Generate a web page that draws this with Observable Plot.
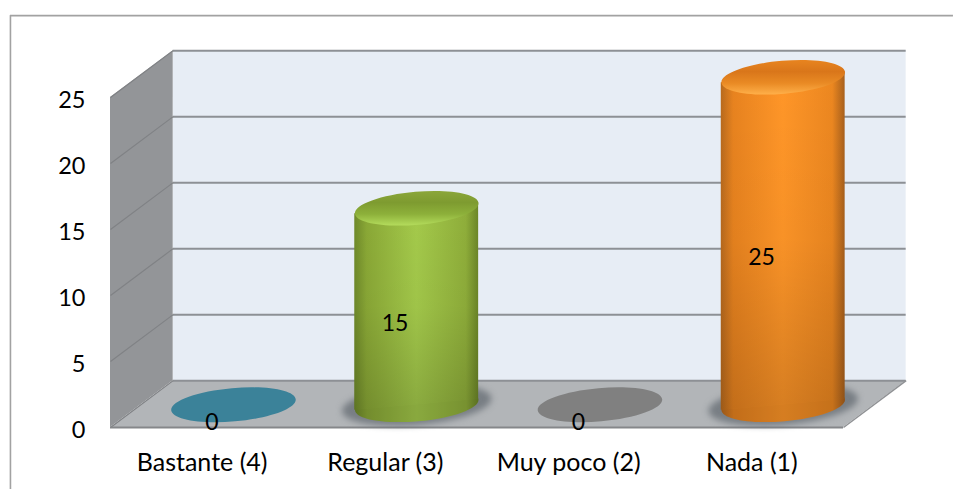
<!DOCTYPE html>
<html>
<head>
<meta charset="utf-8">
<script src="https://cdn.jsdelivr.net/npm/d3@7"></script>
<script src="https://cdn.jsdelivr.net/npm/@observablehq/plot@0.6"></script>
<style>html,body{margin:0;padding:0;background:#fff}svg{display:block}</style>
</head>
<body>
<script>
const categories = ["Bastante (4)", "Regular (3)", "Muy poco (2)", "Nada (1)"];
const values = [0, 15, 0, 25];
const yTicks = [0, 5, 10, 15, 20, 25];
const flatColors = ["#3b8299", "#5f7d25", "#808080", "#c26a17"];
const bodyOffsets = [0, 0.1, 0.5, 0.9, 1];
const bodyStops = [
  null,
  ["#6f8a2a", "#8aa836", "#a4ca4b", "#8fae3a", "#6c8627"],
  null,
  ["#b86a1e", "#e8831f", "#ff9628", "#ec8720", "#a8601c"]
];
const capStops = [
  null,
  ["#8ba63a", "#7e9b30", "#8db03a", "#b4dc5c"],
  null,
  ["#e8841f", "#d9761a", "#e98a24", "#ffb04a"]
];

// depth of the 3D box, in data units of each scale
const depthX = 0.342, depthY = 3.55;
const yMax = 25, nCat = 4;
const barHalf = 0.338, barTilt = 0.42, barScale = 327.5 / 330;
const cx = i => i + 0.5 + depthX / 2;
const base = 1.72;
const ellipseSymbol = {
  draw(ctx, size) {
    const a = Math.sqrt(size / Math.PI), b = a * 16.5 / 62, t = -5 * Math.PI / 180;
    const k = 0.5522848, c = Math.cos(t), s = Math.sin(t);
    const P = (x, y) => [x * c - y * s, x * s + y * c];
    ctx.moveTo(...P(a, 0));
    ctx.bezierCurveTo(...P(a, k * b), ...P(k * a, b), ...P(0, b));
    ctx.bezierCurveTo(...P(-k * a, b), ...P(-a, k * b), ...P(-a, 0));
    ctx.bezierCurveTo(...P(-a, -k * b), ...P(-k * a, -b), ...P(0, -b));
    ctx.bezierCurveTo(...P(k * a, -b), ...P(a, -k * b), ...P(a, 0));
    ctx.closePath();
  }
};

const rows = categories.map((c, i) => ({c, i, v: values[i]}));
const bars = rows.filter(d => d.v > 0);
const topOf = d => base + d.v * barScale;

const marks = [
  // frame
  Plot.ruleX([-0.546], {y1: -4.7, y2: 31.2, stroke: "#a2a2a2", strokeWidth: 1.6}),
  Plot.ruleY([31.2], {x1: -0.546, x2: 4.6, stroke: "#a2a2a2", strokeWidth: 1.6}),
  // back wall
  Plot.rect([0], {x1: depthX, x2: nCat + depthX, y1: depthY, y2: yMax + depthY, fill: "#e7edf5"}),
  // side wall
  Plot.areaY([[0, 0, yMax], [depthX, depthY, yMax + depthY]], {x: d => d[0], y1: d => d[1], y2: d => d[2], fill: "#939598"}),
  // floor
  Plot.area([[0, 0, nCat, 0], [depthX, depthY, nCat + depthX, depthY]], {x1: d => d[0], y1: d => d[1], x2: d => d[2], y2: d => d[3], fill: "#b2b5b8"}),
  // grid on back wall
  Plot.ruleY(yTicks, {y: d => d + depthY, x1: depthX, x2: nCat + depthX, stroke: "#8d9095", strokeWidth: 2}),
  // grid on side wall
  Plot.link(yTicks, {x1: 0, y1: d => d, x2: depthX, y2: d => d + depthY, stroke: "#808285", strokeWidth: 1.2}),
  // floor edges
  Plot.ruleY([0], {x1: 0, x2: nCat, stroke: "#85878a", strokeWidth: 2}),
  Plot.link([nCat], {x1: d => d, y1: 0, x2: d => d + depthX, y2: depthY, stroke: "#909295", strokeWidth: 1.5}),
  // flat zero-height bars
  Plot.dot(rows.filter(d => d.v === 0), {x: d => cx(d.i), y: base, r: 62.5, symbol: ellipseSymbol, fill: d => flatColors[d.i], stroke: "none"}),
  // floor shadows
  Plot.dot(bars, {x: d => cx(d.i), y: base, r: 75, symbol: ellipseSymbol, fill: "#5f666e", fillOpacity: 0.7, stroke: "none", imageFilter: "blur(3px)"})
];

for (const d of bars) {
  const pts = [-1, 1];
  const shape = {
    x: s => cx(d.i) + s * barHalf,
    y1: s => base + s * barTilt,
    y2: s => topOf(d) + s * barTilt
  };
  marks.push(
    Plot.dot([d], {x: cx(d.i), y: base, r: 62, symbol: ellipseSymbol, fill: `url(#body${d.i})`, stroke: "none"}),
    Plot.dot([d], {x: cx(d.i), y: base, r: 62, symbol: ellipseSymbol, fill: "#000", fillOpacity: 0.16, stroke: "none"}),
    Plot.areaY(pts, {...shape, fill: `url(#body${d.i})`}),
    Plot.areaY(pts, {...shape, fill: "url(#shade)"}),
    Plot.dot([d], {x: cx(d.i), y: topOf, r: 62, symbol: ellipseSymbol, fill: `url(#cap${d.i})`, stroke: "none"})
  );
}

marks.push(
  Plot.text(rows, {x: d => d.i + 0.553, y: d => d.v / 2 + 0.4, text: d => String(d.v), fontSize: 23, fill: "#000"}),
  Plot.axisY({ticks: yTicks, anchor: "left", tickSize: 0, tickPadding: 25, fontSize: 23.5, color: "#000", label: null, dy: 3}),
  Plot.axisX({ticks: rows.map(d => d.i + 0.5), tickFormat: (d, i) => categories[i], anchor: "bottom", tickSize: 0, tickPadding: 26, fontSize: 25, color: "#000", label: null})
);

const plot = Plot.plot({
  width: 953,
  height: 489,
  marginLeft: 110,
  marginRight: 110,
  marginBottom: 62,
  marginTop: 97,
  style: {fontFamily: "Lato", background: "#fff"},
  x: {type: "linear", domain: [0, nCat], range: [110, 843]},
  y: {type: "linear", domain: [0, yMax], range: [427, 97]},
  marks
});

const defs = d3.select(plot).insert("defs", ":first-child");
function gradient(id, stops, vertical, offsets) {
  const g = defs.append("linearGradient").attr("id", id).attr("x1", 0).attr("y1", 0)
    .attr("x2", vertical ? 0 : 1).attr("y2", vertical ? 1 : 0);
  stops.forEach((c, k) => g.append("stop").attr("offset", offsets ? offsets[k] : k / (stops.length - 1)).attr("stop-color", c));
  return g;
}
bodyStops.forEach((s, i) => { if (s) gradient(`body${i}`, s, false, bodyOffsets); });
capStops.forEach((s, i) => { if (s) gradient(`cap${i}`, s, true); });
const shade = defs.append("linearGradient").attr("id", "shade").attr("x1", 0).attr("y1", 0).attr("x2", 0).attr("y2", 1);
shade.append("stop").attr("offset", 0).attr("stop-color", "#000").attr("stop-opacity", 0);
shade.append("stop").attr("offset", 0.5).attr("stop-color", "#000").attr("stop-opacity", 0.03);
shade.append("stop").attr("offset", 1).attr("stop-color", "#000").attr("stop-opacity", 0.16);

document.body.appendChild(plot);
</script>
</body>
</html>
